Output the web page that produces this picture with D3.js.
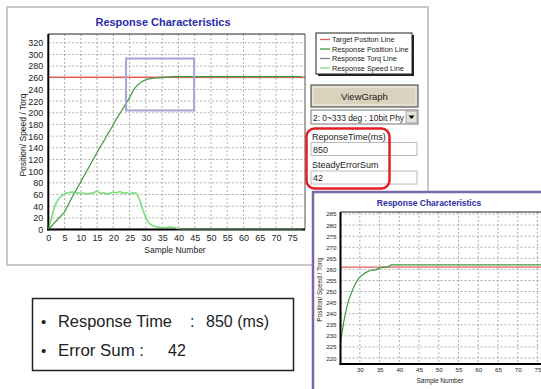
<!DOCTYPE html>
<html><head><meta charset="utf-8">
<script src="https://cdn.jsdelivr.net/npm/d3@7"></script>
<style>
html,body{margin:0;padding:0;background:#fff;}
svg{display:block;}
text{font-family:"Liberation Sans",Arial,sans-serif;}
</style></head>
<body>
<script>
// ---------- DATA ----------
const sampleNumbers = d3.range(0, 79);
const targetPosition = 261;
const responsePosition = [
  0,6,12,18,24,30,41,52,62,72,
  82,92,102,112,122,132,142,151,161,170,
  180,190,199,208,217,226,237,245,250,254,
  256.5,258,259,259.6,259.8,260.6,261,261,262,262,
  262,262,262,262,262,262,262,262,262,262,
  262,262,262,262,262,262,262,262,262,262,
  262,262,262,262,262,262,262,262,262,262,
  262,262,262,262,262,262,262,262,262
];
const responseSpeed = [
  0,20,40,51,57,61,63,64,64,63,
  62,62,61,62,63,66,62,63,61,62,
  64,63,65,62,63,61,63,62,52,35,
  20,11,7,5,4,3,3,4,4,3,
  1,0,0,0,0,0,0,0,0,0,
  0,0,0,0,0,0,0,0,0,0,
  0,0,0,0,0,0,0,0,0,0,
  0,0,0,0,0,0,0,0,0
];
const responseTorq = [
  0,0,0,0,0,0,0,0,0,0, 0,0,0,0,0,0,0,0,0,0,
  0,0,0,0,0,0,0,0,0,0, 0,0,0,0,0,0,0,0,0,0,
  0,0,0,0,0,0,0,0,0,0, 0,0,0,0,0,0,0,0,0,0,
  0,0,0,0,0,0,0,0,0,0, 0,0,0,0,0,0,0,0,0
];
const xTicks = [0,5,10,15,20,25,30,35,40,45,50,55,60,65,70,75];
const yTicks = [0,20,40,60,80,100,120,140,160,180,200,220,240,260,280,300,320];
const insetXTicks = [30,35,40,45,50,55,60,65,70,75];
const insetYTicks = [220,225,230,235,240,245,250,255,260,265,270,275,280,285];
const zoomBox = {x0:23.9, x1:44.8, y0:204, y1:293};
const legendLabels = ["Target Positon Line","Response Position Line","Response Torq Line","Response Speed Line"];
const legendColors = ["#e06060","#3f9a3f","#808080","#7fe07f"];
const chartTitle = "Response Characteristics";
const yLabel = "Position/ Speed / Torq";
const xLabel = "Sample Number";
const responseTimeMs = 850;
const steadyErrorSum = 42;
const modeOption = "2: 0~333 deg : 10bit Phy";

// ---------- DRAW ----------
const W = 541, H = 389;
const svg = d3.select("body").append("svg").attr("width", W).attr("height", H);

// main window panel
svg.append("rect").attr("x",7).attr("y",7).attr("width",421).attr("height",258)
  .attr("fill","#fff").attr("stroke","#c9c9c9").attr("stroke-width",2);

function drawChart(g, cfg) {
  const x = d3.scaleLinear().domain(cfg.xDomain).range(cfg.xRange);
  const y = d3.scaleLinear().domain(cfg.yDomain).range(cfg.yRange);
  const [L, R] = cfg.xRange, [B, T] = cfg.yRange;
  const clipId = cfg.id + "clip";
  g.append("clipPath").attr("id", clipId).append("rect")
    .attr("x", L).attr("y", T).attr("width", R - L).attr("height", B - T);

  // grid
  const grid = g.append("g").attr("stroke", "#9a9a9a").attr("stroke-width", 0.8)
    .attr("stroke-dasharray", "2,2");
  cfg.xTicks.forEach(t => { if (x(t) > L + 1) grid.append("line").attr("x1", x(t)).attr("x2", x(t)).attr("y1", T).attr("y2", B); });
  cfg.yTicks.forEach(t => { if (y(t) < B - 1) grid.append("line").attr("x1", L).attr("x2", R).attr("y1", y(t)).attr("y2", y(t)); });

  // axes (labels via d3 axes)
  const ax = g.append("g").attr("transform", `translate(0,${B})`)
    .call(d3.axisBottom(x).tickValues(cfg.xTicks).tickSize(0).tickPadding(cfg.tickPad));
  const ay = g.append("g").attr("transform", `translate(${L},0)`)
    .call(d3.axisLeft(y).tickValues(cfg.yTicks).tickSize(0).tickPadding(cfg.tickPad));
  [ax, ay].forEach(a => {
    a.select(".domain").remove();
    a.selectAll("text").attr("font-size", cfg.tickFont).attr("fill", "#222")
      .attr("font-family", '"Liberation Sans",Arial,sans-serif');
  });

  // lines
  const lines = g.append("g").attr("clip-path", `url(#${clipId})`);
  const lineGen = vals => d3.line().x((d, i) => x(sampleNumbers[i])).y(d => y(d))
    .curve(d3.curveMonotoneX)(vals);
  lines.append("line").attr("x1", L).attr("x2", R)
    .attr("y1", y(targetPosition)).attr("y2", y(targetPosition))
    .attr("stroke", legendColors[0]).attr("stroke-width", 1.4);
  lines.append("path").attr("d", lineGen(responseTorq)).attr("fill", "none")
    .attr("stroke", legendColors[2]).attr("stroke-width", 1.4);
  lines.append("path").attr("d", lineGen(responseSpeed)).attr("fill", "none")
    .attr("stroke", legendColors[3]).attr("stroke-width", 1.5);
  lines.append("path").attr("d", lineGen(responsePosition)).attr("fill", "none")
    .attr("stroke", legendColors[1]).attr("stroke-width", 1.2);

  // frame
  g.append("line").attr("x1", L).attr("x2", R).attr("y1", T).attr("y2", T).attr("stroke", "#222").attr("stroke-width", 1);
  g.append("line").attr("x1", R).attr("x2", R).attr("y1", T).attr("y2", B).attr("stroke", "#555").attr("stroke-width", 1);
  g.append("line").attr("x1", L).attr("x2", L).attr("y1", T).attr("y2", B + 1).attr("stroke", "#000").attr("stroke-width", 2);
  g.append("line").attr("x1", L - 1).attr("x2", R).attr("y1", B).attr("y2", B).attr("stroke", "#000").attr("stroke-width", 2.2);
  g.append("path").attr("clip-path", `url(#${clipId})`).attr("d", lineGen(responseSpeed)).attr("fill", "none")
    .attr("stroke", legendColors[3]).attr("stroke-width", 1.2).attr("opacity", 0.8);

  // title and labels
  g.append("text").attr("x", cfg.titleX).attr("y", cfg.titleY).attr("text-anchor", "middle")
    .attr("font-size", cfg.titleFont).attr("font-weight", "bold").attr("fill", "#2b2ba8").text(chartTitle);
  g.append("text").attr("x", cfg.xLabelX).attr("y", cfg.xLabelY).attr("text-anchor", "middle")
    .attr("font-size", cfg.labelFont).attr("fill", "#222").text(xLabel);
  g.append("text").attr("transform", `translate(${cfg.yLabelX},${cfg.yLabelY}) rotate(-90)`)
    .attr("text-anchor", "middle").attr("font-size", cfg.labelFont).attr("fill", "#222").text(yLabel);
  return {x, y};
}

const main = svg.append("g");
const ms = drawChart(main, {
  id: "main", xDomain: [0, 78.9], xRange: [48.3, 305], yDomain: [0, 335], yRange: [229.5, 34],
  xTicks, yTicks, tickPad: 5, tickFont: 9, titleX: 163, titleY: 26, titleFont: 11,
  xLabelX: 175, xLabelY: 253, yLabelX: 26, yLabelY: 135, labelFont: 8.5
});
// zoom box
main.append("rect").attr("x", ms.x(zoomBox.x0)).attr("y", ms.y(zoomBox.y1))
  .attr("width", ms.x(zoomBox.x1) - ms.x(zoomBox.x0)).attr("height", ms.y(zoomBox.y0) - ms.y(zoomBox.y1))
  .attr("fill", "none").attr("stroke", "#a6a6d6").attr("stroke-width", 2);

// legend
const lg = svg.append("g");
lg.append("rect").attr("x", 318).attr("y", 35).attr("width", 96).attr("height", 41).attr("fill", "#222");
lg.append("rect").attr("x", 316).attr("y", 33).attr("width", 96).attr("height", 41).attr("fill", "#fff")
  .attr("stroke", "#222").attr("stroke-width", 1);
legendLabels.forEach((lab, i) => {
  const yy = 39.5 + i * 9.5;
  lg.append("line").attr("x1", 320).attr("x2", 330).attr("y1", yy).attr("y2", yy)
    .attr("stroke", legendColors[i]).attr("stroke-width", 1.3);
  lg.append("text").attr("x", 332).attr("y", yy + 2.8).attr("font-size", 7.3).attr("fill", "#222").text(lab);
});

// ViewGraph button
const btn = svg.append("g");
btn.append("rect").attr("x", 311).attr("y", 85).attr("width", 107).attr("height", 22)
  .attr("fill", "#d9d2bd").attr("stroke", "#555").attr("stroke-width", 1.2);
btn.append("rect").attr("x", 313).attr("y", 87).attr("width", 103).attr("height", 18)
  .attr("fill", "none").attr("stroke", "#f3efe3").attr("stroke-width", 1);
btn.append("text").attr("x", 364.5).attr("y", 99.5).attr("text-anchor", "middle")
  .attr("font-size", 9.5).attr("fill", "#222").text("ViewGraph");

// dropdown
const dd = svg.append("g");
dd.append("rect").attr("x", 311).attr("y", 110).attr("width", 107).attr("height", 14)
  .attr("fill", "#fff").attr("stroke", "#777").attr("stroke-width", 1);
dd.append("text").attr("x", 313).attr("y", 120.5).attr("font-size", 8.3).attr("fill", "#222")
  .attr("textLength", 91).attr("lengthAdjust", "spacingAndGlyphs").text(modeOption);
dd.append("rect").attr("x", 406).attr("y", 111).attr("width", 11).attr("height", 12)
  .attr("fill", "#e4e1da").attr("stroke", "#999").attr("stroke-width", 0.8);
dd.append("path").attr("d", "M408.5,115.5 L414.5,115.5 L411.5,119 Z").attr("fill", "#000");

// fields
const fields = svg.append("g");
fields.append("text").attr("x", 312).attr("y", 140).attr("font-size", 9).attr("fill", "#222").text("ReponseTime(ms)");
fields.append("rect").attr("x", 311).attr("y", 142.5).attr("width", 106).attr("height", 13)
  .attr("fill", "#fff").attr("stroke", "#bbb").attr("stroke-width", 1);
fields.append("text").attr("x", 313).attr("y", 152.5).attr("font-size", 9).attr("fill", "#222").text(responseTimeMs);
fields.append("text").attr("x", 312).attr("y", 168).attr("font-size", 9).attr("fill", "#222").text("SteadyErrorSum");
fields.append("rect").attr("x", 311).attr("y", 171).attr("width", 106).attr("height", 13)
  .attr("fill", "#fff").attr("stroke", "#bbb").attr("stroke-width", 1);
fields.append("text").attr("x", 313).attr("y", 181).attr("font-size", 9).attr("fill", "#222").text(steadyErrorSum);

// red highlight
svg.append("rect").attr("x", 306.5).attr("y", 128.5).attr("width", 83).attr("height", 60).attr("rx", 8)
  .attr("fill", "none").attr("stroke", "#e31e24").attr("stroke-width", 2.5);

// inset panel
svg.append("rect").attr("x", 313).attr("y", 192).attr("width", 240).attr("height", 205)
  .attr("fill", "#fff").attr("stroke", "#7c68a8").attr("stroke-width", 2.5);
const inset = svg.append("g");
drawChart(inset, {
  id: "inset", xDomain: [25.1, 78.5], xRange: [340.5, 551.3], yDomain: [217.3, 285.9], yRange: [364, 212],
  xTicks: insetXTicks, yTicks: insetYTicks, tickPad: 4, tickFont: 6.2, titleX: 429, titleY: 206, titleFont: 8.5,
  xLabelX: 440, xLabelY: 383, yLabelX: 322, yLabelY: 290, labelFont: 6.5
});

// summary box
const sb = svg.append("g");
sb.append("rect").attr("x", 32.5).attr("y", 298.5).attr("width", 261).attr("height", 72)
  .attr("fill", "#fff").attr("stroke", "#222").attr("stroke-width", 1.5);
const sf = '"Noto Sans","Open Sans",sans-serif';
[[326.5, "Response Time", 190, ":", 206, responseTimeMs + " (ms)"],
 [355.5, "Error Sum :", 168, "", 168, String(steadyErrorSum)]].forEach(r => {
  sb.append("text").attr("x", 41).attr("y", r[0]).attr("font-size", 15).attr("font-family", sf).attr("fill", "#222").text("•");
  const t = sb.append("text").attr("x", 58).attr("y", r[0]).attr("font-size", 16).attr("font-family", sf).attr("fill", "#222").text(r[1]);
  if (r[3]) {
    t.attr("textLength", 114).attr("lengthAdjust", "spacingAndGlyphs");
    sb.append("text").attr("x", r[2]).attr("y", r[0]).attr("font-size", 16).attr("font-family", sf).attr("fill", "#222").text(r[3]);
  } else {
    t.attr("textLength", 86).attr("lengthAdjust", "spacingAndGlyphs");
  }
  sb.append("text").attr("x", r[4]).attr("y", r[0]).attr("font-size", 16).attr("font-family", sf).attr("fill", "#222").text(r[5]);
});
</script>
</body></html>
